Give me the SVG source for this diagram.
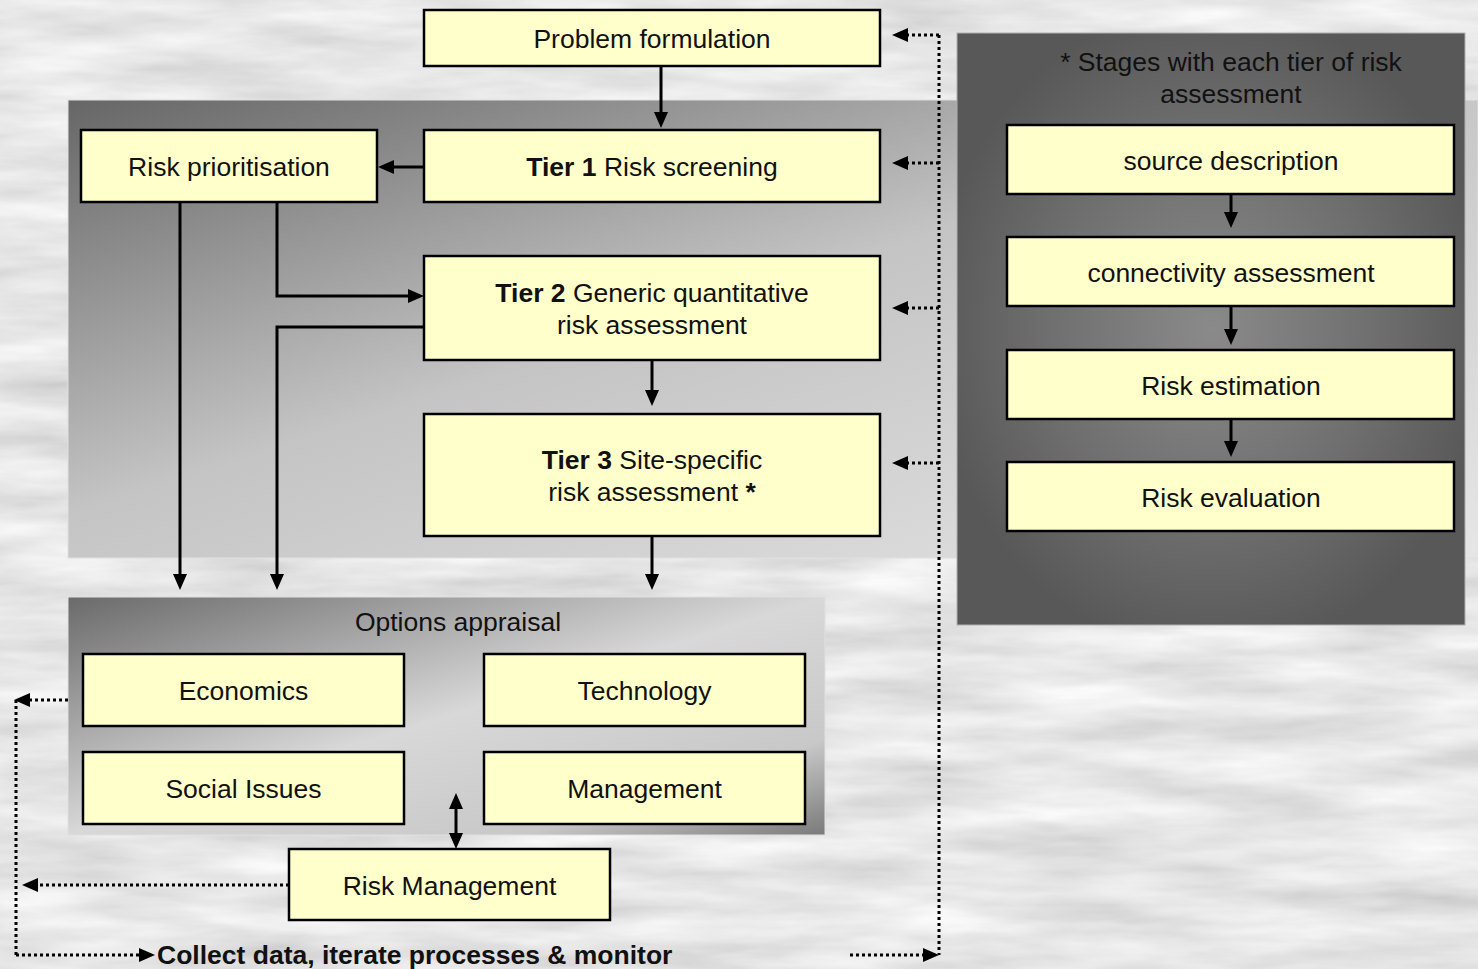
<svg xmlns="http://www.w3.org/2000/svg" width="1478" height="969" viewBox="0 0 1478 969">
<defs>
<filter id="tex" x="0" y="0" width="100%" height="100%" filterUnits="userSpaceOnUse">
<feTurbulence type="fractalNoise" baseFrequency="0.006 0.035" numOctaves="4" seed="7"/>
<feColorMatrix type="matrix" values="0.45 0 0 0 0.57  0.45 0 0 0 0.57  0.45 0 0 0 0.57  0 0 0 0 1"/>
</filter>
<linearGradient id="gTop" x1="0" y1="0" x2="1" y2="1">
<stop offset="0" stop-color="#666"/>
<stop offset="0.45" stop-color="#c4c4c4"/>
<stop offset="1" stop-color="#e6e6e6"/>
</linearGradient>
<linearGradient id="gOpt" x1="0" y1="0" x2="1" y2="1">
<stop offset="0" stop-color="#6a6a6a"/>
<stop offset="0.5" stop-color="#d8d8d8"/>
<stop offset="0.8" stop-color="#c8c8c8"/>
<stop offset="1" stop-color="#7a7a7a"/>
</linearGradient>
<radialGradient id="gRight" cx="0.5" cy="0.5" r="0.55">
<stop offset="0" stop-color="#8a8a8a"/>
<stop offset="0.6" stop-color="#6e6e6e"/>
<stop offset="1" stop-color="#585858"/>
</radialGradient>
<marker id="ah" markerUnits="userSpaceOnUse" markerWidth="16" markerHeight="14" refX="2" refY="7" orient="auto-start-reverse">
<path d="M0,0 L16,7 L0,14 z" fill="#000"/>
</marker>
<style>
.box{fill:#ffffcc;stroke:#000;stroke-width:2.5}
.t{font-family:"Liberation Sans",Arial,sans-serif;font-size:26.5px;fill:#111;text-anchor:middle}
.b{font-weight:bold}
.sl{fill:none;stroke:#000;stroke-width:3}
.dl{fill:none;stroke:#000;stroke-width:3;stroke-dasharray:3 3}
</style>
</defs>
<rect x="0" y="0" width="1478" height="969" filter="url(#tex)"/>
<g id="panels">
<rect x="68" y="100" width="1410" height="458" fill="url(#gTop)" stroke="#e0e0e0" stroke-width="1"/>
<rect x="68" y="597" width="757" height="238" fill="url(#gOpt)" stroke="#e0e0e0" stroke-width="1"/>
<rect x="957" y="33" width="508" height="592" fill="url(#gRight)" stroke="#b0b0b0" stroke-width="1"/>
<text class="t" x="458" y="631">Options appraisal</text>
<text class="t" x="1231" y="71">* Stages with each tier of risk</text>
<text class="t" x="1231" y="103">assessment</text>
</g>
<g id="connectors">
<line class="sl" x1="661" y1="66" x2="661" y2="114" marker-end="url(#ah)"/>
<line class="sl" x1="424" y1="167" x2="392" y2="167" marker-end="url(#ah)"/>
<line class="sl" x1="180" y1="202" x2="180" y2="576" marker-end="url(#ah)"/>
<path class="sl" d="M277,202 V296 H410" marker-end="url(#ah)"/>
<path class="sl" d="M424,327 H277 V576" marker-end="url(#ah)"/>
<line class="sl" x1="652" y1="360" x2="652" y2="392" marker-end="url(#ah)"/>
<line class="sl" x1="652" y1="536" x2="652" y2="576" marker-end="url(#ah)"/>
<line class="sl" x1="1231" y1="194" x2="1231" y2="214" marker-end="url(#ah)"/>
<line class="sl" x1="1231" y1="306" x2="1231" y2="331" marker-end="url(#ah)"/>
<line class="sl" x1="1231" y1="419" x2="1231" y2="443" marker-end="url(#ah)"/>
<line class="sl" x1="456" y1="807" x2="456" y2="835" marker-start="url(#ah)" marker-end="url(#ah)"/>
<line class="dl" x1="939" y1="35" x2="939" y2="955"/>
<path class="dl" d="M939,35 H906" marker-end="url(#ah)"/>
<path class="dl" d="M939,163 H906" marker-end="url(#ah)"/>
<path class="dl" d="M939,308 H906" marker-end="url(#ah)"/>
<path class="dl" d="M939,463 H906" marker-end="url(#ah)"/>
<path class="dl" d="M850,955 H925" marker-end="url(#ah)"/>
<path class="dl" d="M68,700 H28" marker-end="url(#ah)"/>
<line class="dl" x1="16" y1="700" x2="16" y2="955"/>
<path class="dl" d="M16,955 H141" marker-end="url(#ah)"/>
<path class="dl" d="M289,885 H36" marker-end="url(#ah)"/>
</g>
<g id="problem-formulation"><rect class="box" x="424" y="10" width="456" height="56"/><text class="t" x="652" y="48">Problem formulation</text></g>
<g id="tier1"><rect class="box" x="424" y="130" width="456" height="72"/><text class="t" x="652" y="176"><tspan class="b">Tier 1</tspan> Risk screening</text></g>
<g id="risk-prioritisation"><rect class="box" x="81" y="130" width="296" height="72"/><text class="t" x="229" y="176">Risk prioritisation</text></g>
<g id="tier2"><rect class="box" x="424" y="256" width="456" height="104"/><text class="t" x="652" y="302"><tspan class="b">Tier 2</tspan> Generic quantitative</text><text class="t" x="652" y="334">risk assessment</text></g>
<g id="tier3"><rect class="box" x="424" y="414" width="456" height="122"/><text class="t" x="652" y="469"><tspan class="b">Tier 3</tspan> Site-specific</text><text class="t" x="652" y="501">risk assessment <tspan class="b">*</tspan></text></g>
<g id="economics"><rect class="box" x="83" y="654" width="321" height="72"/><text class="t" x="243.5" y="700">Economics</text></g>
<g id="technology"><rect class="box" x="484" y="654" width="321" height="72"/><text class="t" x="644.5" y="700">Technology</text></g>
<g id="social-issues"><rect class="box" x="83" y="752" width="321" height="72"/><text class="t" x="243.5" y="798">Social Issues</text></g>
<g id="management"><rect class="box" x="484" y="752" width="321" height="72"/><text class="t" x="644.5" y="798">Management</text></g>
<g id="risk-management"><rect class="box" x="289" y="849" width="321" height="71"/><text class="t" x="449.5" y="895">Risk Management</text></g>
<g id="source-description"><rect class="box" x="1007" y="125" width="447" height="69"/><text class="t" x="1231" y="170">source description</text></g>
<g id="connectivity-assessment"><rect class="box" x="1007" y="237" width="447" height="69"/><text class="t" x="1231" y="282">connectivity assessment</text></g>
<g id="risk-estimation"><rect class="box" x="1007" y="350" width="447" height="69"/><text class="t" x="1231" y="395">Risk estimation</text></g>
<g id="risk-evaluation"><rect class="box" x="1007" y="462" width="447" height="69"/><text class="t" x="1231" y="507">Risk evaluation</text></g>
<g id="footer"><text class="t b" x="157" y="964" style="text-anchor:start">Collect data, iterate processes &amp; monitor</text></g>
</svg>
